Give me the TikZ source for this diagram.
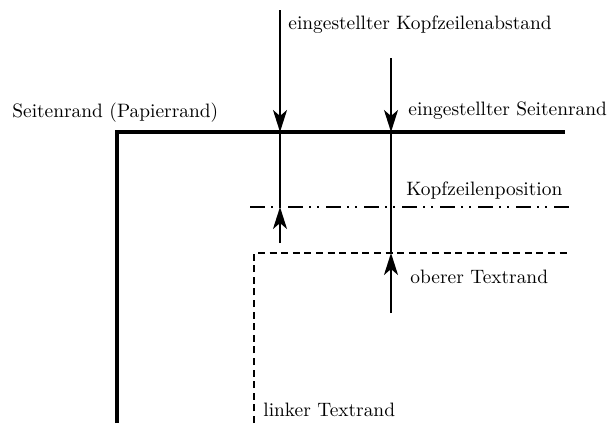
\documentclass[tikz,border=0pt]{standalone}
\usepackage{tikz}
\usetikzlibrary{arrows.meta}
\usetikzlibrary{positioning}

\begin{document}
\begin{tikzpicture}[
  x=0.5pt, y=-0.5pt,
  >={Stealth[length=11pt,width=7pt,inset=3pt]},
  every node/.style={font=\fontsize{9.7}{12}\selectfont},
  lbl/.style={anchor=base west, inner sep=0pt},
  paper/.style={line width=2pt},
  dim/.style={->, line width=1pt},
  guide/.style={line width=0.75pt},
  textedge/.style={line width=0.75pt, dash pattern=on 3.5pt off 2.3pt},
  headline/.style={line width=0.75pt, dash pattern=on 7.5pt off 3pt on 1pt off 3pt on 1pt off 3.5pt}
]
\useasboundingbox (0,0) rectangle (608,423);

% ---------- Reference points ----------
\coordinate (pcorner) at (117,132);
\coordinate (pright)  at (565,132);
\coordinate (pbottom) at (117,423);

\coordinate (hdtop)   at (280,10);
\coordinate (hdpaper) at (280,132);
\coordinate (hdline)  at (280,207);
\coordinate (hdlow)   at (280,243);

\coordinate (mgtop)   at (391,58);
\coordinate (mgpaper) at (391,132);
\coordinate (mgtext)  at (391,253);
\coordinate (mglow)   at (391,313);

\coordinate (hlleft)  at (250,207);
\coordinate (hlright) at (573,207);

\coordinate (tcorner) at (254,253);
\coordinate (tright)  at (569,253);
\coordinate (tbottom) at (254,423);

% ---------- Paper edge ----------
\draw[paper] (pbottom) -- (pcorner) -- (pright);

% ---------- Header line and text area ----------
\draw[headline] (hlleft) -- (hlright);
\draw[textedge] (tbottom) -- (tcorner) -- (tright);

% ---------- Header distance ----------
\draw[dim] (hdtop) -- (hdpaper);
\draw[guide] (hdpaper) -- (hdline);
\draw[dim] (hdlow) -- (hdline);

% ---------- Top margin ----------
\draw[dim] (mgtop) -- (mgpaper);
\draw[guide] (mgpaper) -- (mgtext);
\draw[dim] (mglow) -- (mgtext);

% ---------- Labels ----------
\node[lbl] (lhead)  at (288,29)  {eingestellter Kopfzeilenabstand};
\node[lbl] (lmarg)  at (408,115) {eingestellter Seitenrand};
\node[lbl] (lpaper) at (12,117)  {Seitenrand (Papierrand)};
\node[lbl] (lhpos)  at (406,195) {Kopfzeilenposition};
\node[lbl] (ltop)   at (410,283) {oberer Textrand};
\node[lbl] (lleft)  at (263,416) {linker Textrand};

\end{tikzpicture}
\end{document}
